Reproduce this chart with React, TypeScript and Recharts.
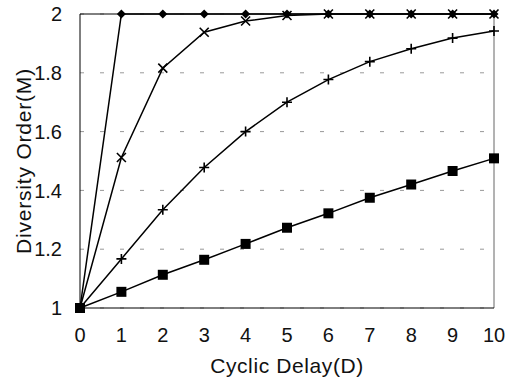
import { LineChart, Line, XAxis, YAxis, CartesianGrid, ReferenceLine } from "recharts";

const delays = [0, 1, 2, 3, 4, 5, 6, 7, 8, 9, 10];
const diamondSeries = [1, 2, 2, 2, 2, 2, 2, 2, 2, 2, 2];
const crossSeries = [1, 1.512, 1.816, 1.938, 1.976, 1.995, 2, 2, 2, 2, 2];
const plusSeries = [1, 1.167, 1.334, 1.478, 1.6, 1.7, 1.777, 1.838, 1.882, 1.918, 1.942];
const squareSeries = [1, 1.055, 1.113, 1.164, 1.218, 1.273, 1.322, 1.375, 1.42, 1.466, 1.509];
const xTicks = [0, 1, 2, 3, 4, 5, 6, 7, 8, 9, 10];
const yTicks = [1, 1.2, 1.4, 1.6, 1.8, 2];

const data = delays.map((d, i) => ({
  d,
  diamond: diamondSeries[i],
  cross: crossSeries[i],
  plus: plusSeries[i],
  square: squareSeries[i],
}));

const font = "'Liberation Sans', Arial, sans-serif";

function DiamondDot(props: any) {
  const { cx, cy, index } = props;
  const s = 4.5;
  return (
    <path
      key={`dm-${index}`}
      d={`M${cx},${cy - s} L${cx + s},${cy} L${cx},${cy + s} L${cx - s},${cy} Z`}
      fill="#000"
    />
  );
}

function CrossDot(props: any) {
  const { cx, cy, index } = props;
  const s = 4.5;
  return (
    <path
      key={`cr-${index}`}
      d={`M${cx - s},${cy - s} L${cx + s},${cy + s} M${cx - s},${cy + s} L${cx + s},${cy - s}`}
      stroke="#000"
      strokeWidth={1.6}
    />
  );
}

function PlusDot(props: any) {
  const { cx, cy, index } = props;
  const s = 5;
  return (
    <path
      key={`pl-${index}`}
      d={`M${cx - s},${cy} L${cx + s},${cy} M${cx},${cy - s} L${cx},${cy + s}`}
      stroke="#000"
      strokeWidth={1.6}
    />
  );
}

function SquareDot(props: any) {
  const { cx, cy, index } = props;
  const s = 5;
  return <rect key={`sq-${index}`} x={cx - s} y={cy - s} width={2 * s} height={2 * s} fill="#000" />;
}

export default function App() {
  return (
    <div style={{ position: "absolute", left: 0, top: 0, background: "#fff" }}>
      <LineChart width={515} height={378} data={data} margin={{ top: 14, right: 21, bottom: 0, left: 0 }}>
        <CartesianGrid vertical={false} stroke="#999" strokeDasharray="4 16" />
        <XAxis
          dataKey="d"
          type="number"
          domain={[0, 10]}
          ticks={xTicks}
          height={70}
          tickSize={0}
          tickMargin={20}
          stroke="#000"
          tick={{ fill: "#111", fontSize: 20, fontFamily: font }}
          label={{
            value: "Cyclic Delay(D)",
            position: "insideBottom",
            offset: 5,
            fill: "#111",
            fontSize: 21,
            fontFamily: font,
            letterSpacing: 0.6,
          }}
        />
        <YAxis
          type="number"
          domain={[1, 2]}
          ticks={yTicks}
          width={80}
          tickSize={0}
          tickMargin={18}
          stroke="#000"
          tick={{ fill: "#111", fontSize: 20, fontFamily: font }}
          label={{
            value: "Diversity Order(M)",
            angle: -90,
            position: "insideLeft",
            offset: 24,
            style: { textAnchor: "middle" },
            fill: "#111",
            fontSize: 21,
            fontFamily: font,
            letterSpacing: 0.8,
          }}
        />
        <ReferenceLine x={10} stroke="#666" />
        <ReferenceLine y={2} stroke="#000" />
        <Line dataKey="square" stroke="#000" strokeWidth={1.5} dot={SquareDot} isAnimationActive={false} />
        <Line dataKey="plus" stroke="#000" strokeWidth={1.5} dot={PlusDot} isAnimationActive={false} />
        <Line dataKey="cross" stroke="#000" strokeWidth={1.5} dot={CrossDot} isAnimationActive={false} />
        <Line dataKey="diamond" stroke="#000" strokeWidth={1.5} dot={DiamondDot} isAnimationActive={false} />
      </LineChart>
    </div>
  );
}
